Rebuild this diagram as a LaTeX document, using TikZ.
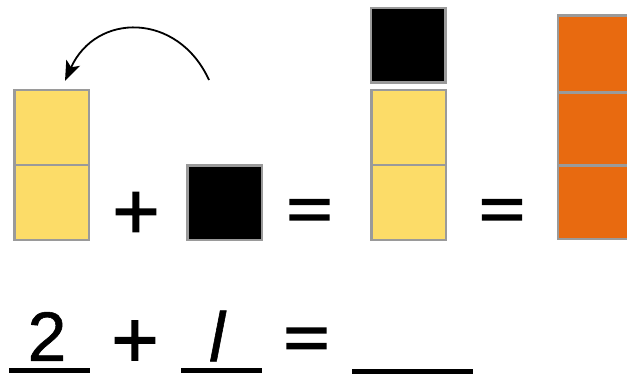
\documentclass[tikz,border=0pt]{standalone}
\usepackage{fontspec}
\setmainfont{Liberation Sans}
\newfontfamily\symfont[FakeBold=1.5]{Liberation Sans}
\newfontfamily\eqfont[FakeBold=3]{Liberation Sans}
\newfontfamily\numfont[FakeBold=0.8]{Liberation Sans}
\usetikzlibrary{arrows.meta}
\definecolor{cubeyellow}{HTML}{FCDC68}
\definecolor{cubeorange}{HTML}{E86A10}
\definecolor{cubeedge}{HTML}{9A9A9A}
\begin{document}
\begin{tikzpicture}[x=1pt,y=-1pt,
  cube/.style={draw=cubeedge, line width=2.5pt, minimum width=74.5pt, minimum height=75pt, inner sep=0pt, outer sep=0pt},
  ycube/.style={cube, fill=cubeyellow},
  bcube/.style={cube, fill=black, minimum height=74.5pt},
  ocube/.style={cube, fill=cubeorange},
  sym/.style={inner sep=0pt, font=\symfont\fontsize{81}{81}\selectfont},
  eqsym/.style={inner sep=0pt, font=\eqfont\fontsize{78}{78}\selectfont, yscale=0.8},
  num/.style={inner sep=0pt, font=\numfont\fontsize{70}{70}\selectfont},
  uline/.style={line width=5pt},
  arrowline/.style={line width=1.8pt, -{Stealth[length=20pt,width=15pt,inset=5pt]}}
]
\useasboundingbox (0,0) rectangle (627,378);
\clip (0,0) rectangle (627,378);
% left yellow column
\node[ycube] (ya1) at (51.5,127.5) {};
\node[ycube] (ya2) at (51.5,202.5) {};
% arrow
\coordinate (arrstart) at (209,80);
\coordinate (arrtip) at (65,81);
\draw[arrowline] (arrstart) .. controls (178,12) and (96,12) .. (arrtip);
% plus and black cube
\node[sym] (plus1) at (136,215.5) {+};
\node[bcube] (bk1) at (224.5,202.5) {};
\node[eqsym] (eq1) at (309.5,215) {=};
% middle column
\node[bcube] (bk2) at (408,45.3) {};
\node[ycube] (yb1) at (408.5,127.5) {};
\node[ycube] (yb2) at (408.5,202.5) {};
\node[eqsym] (eq2) at (502,215) {=};
% orange column
\node[ocube, minimum height=76.8pt] (or1) at (595.2,53.9) {};
\node[ocube, minimum height=73.4pt] (or2) at (595.2,129) {};
\node[ocube, minimum height=73.1pt] (or3) at (595.2,202.3) {};
% bottom equation
\node[num] (two) at (47,336.5) {2};
\draw[uline] (9,370.5) -- (90,370.5);
\node[sym] (plus2) at (135,344) {+};
\node[num] (one) at (217,336) {\itshape l};
\draw[uline] (181,370.5) -- (262,370.5);
\node[eqsym] (eq3) at (306.5,343.5) {=};
\draw[uline] (352,371.5) -- (473,371.5);
\end{tikzpicture}
\end{document}
